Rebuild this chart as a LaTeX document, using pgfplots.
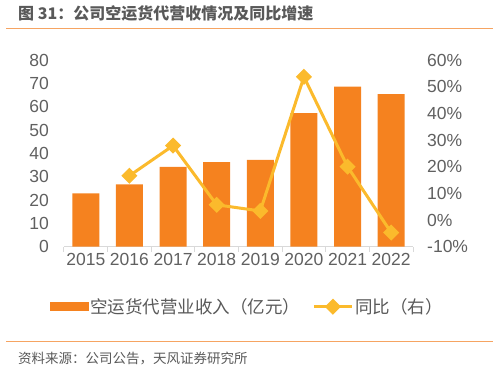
\documentclass[border=0pt]{standalone}
\usepackage{pgfplots}
\pgfplotsset{compat=1.18}
\usepackage{fontspec}
\setmainfont{Liberation Sans}
\newfontfamily\cjk{Noto Sans CJK SC}
\definecolor{barorange}{HTML}{F5821F}
\definecolor{lineyellow}{HTML}{FBBA2C}
\definecolor{txtgray}{HTML}{595959}
\definecolor{tickgray}{HTML}{606060}
\definecolor{rulecol}{HTML}{F6A462}
\definecolor{axgray}{HTML}{D9D9D9}
\pgfplotsset{mylegline/.style={legend image code/.code={\draw[mark repeat=2,mark phase=2,##1] plot coordinates {(0pt,0pt) (19pt,0pt) (38pt,0pt)};}}}
\begin{document}
\begin{tikzpicture}
\path[use as bounding box] (0,0) rectangle (499pt,371pt);
\node[anchor=west, text=txtgray, font=\cjk\bfseries\fontsize{16}{18}\selectfont, inner sep=0pt] at (18pt,357.7pt) {图 31：公司空运货代营收情况及同比增速};
\draw[rulecol, line width=1pt] (6pt,342pt) -- (493pt,342pt);
\draw[rulecol, line width=1pt] (6pt,29pt) -- (493pt,29pt);
\node[anchor=west, text=txtgray, font=\cjk\fontsize{13.5}{15}\selectfont, inner sep=0pt] at (18pt,12pt) {资料来源：公司公告，天风证券研究所};
\begin{axis}[
  at={(64pt,124.3pt)}, anchor=south west,
  scale only axis, width=349pt, height=186.7pt,
  xmin=-0.5, xmax=7.5, ymin=0, ymax=80,
  axis x line*=bottom, axis y line*=left,
  y axis line style={draw=none},
  x axis line style={draw=axgray, line width=1pt, -},
  tick style={draw=none},
  ytick={0,10,...,80},
  xtick={0,...,7},
  xticklabels={2015,2016,2017,2018,2019,2020,2021,2022},
  extra x ticks={-0.5,0.5,1.5,2.5,3.5,4.5,5.5,6.5,7.5},
  extra x tick labels={},
  extra x tick style={tick style={draw=axgray, line width=1pt}, major tick length=5pt, tick align=outside},
  /pgf/number format/assume math mode=true,
  ticklabel style={font=\fontsize{17.5}{20}\selectfont, text=tickgray, inner sep=0pt},
  xticklabel style={anchor=base, yshift=-19.3pt},
  yticklabel style={anchor=east, xshift=-15pt},
  clip=false,
]
\addplot[ybar, bar width=27pt, bar shift=0pt, fill=barorange, draw=none]
  coordinates {(0,22.9) (1,26.7) (2,34.2) (3,36.2) (4,37.2) (5,57.2) (6,68.6) (7,65.4)};
\end{axis}
\begin{axis}[
  at={(64pt,124.3pt)}, anchor=south west,
  scale only axis, width=349pt, height=186.7pt,
  xmin=-0.5, xmax=7.5, ymin=-10, ymax=60,
  axis x line=none, axis y line*=right,
  y axis line style={draw=none},
  tick style={draw=none},
  ytick={-10,0,10,20,30,40,50,60},
  yticklabels={-10\%,0\%,10\%,20\%,30\%,40\%,50\%,60\%},
  ticklabel style={font=\fontsize{17.5}{20}\selectfont, text=tickgray, inner sep=0pt},
  yticklabel style={anchor=west, xshift=14pt},
  clip=false,
  legend columns=2,
  legend style={at={(0.5258,-0.3214)}, anchor=center, draw=none, fill=none,
    font=\cjk\fontsize{17.5}{20}\selectfont, text=txtgray,
    /tikz/every even column/.append style={column sep=10pt}},
]
\addlegendimage{legend image code/.code={\fill[barorange] (0pt,-4pt) rectangle (38pt,4pt);}}
\addlegendentry{空运货代营业收入（亿元）}
\addplot[lineyellow, line width=3pt, mark=square*, mark size=4.2pt, mark options={rotate=45, solid}, mylegline]
  coordinates {(1,16.6) (2,27.9) (3,5.7) (4,3.4) (5,53.7) (6,20.0) (7,-4.7)};
\addlegendentry{同比（右）}
\end{axis}
\end{tikzpicture}
\end{document}
